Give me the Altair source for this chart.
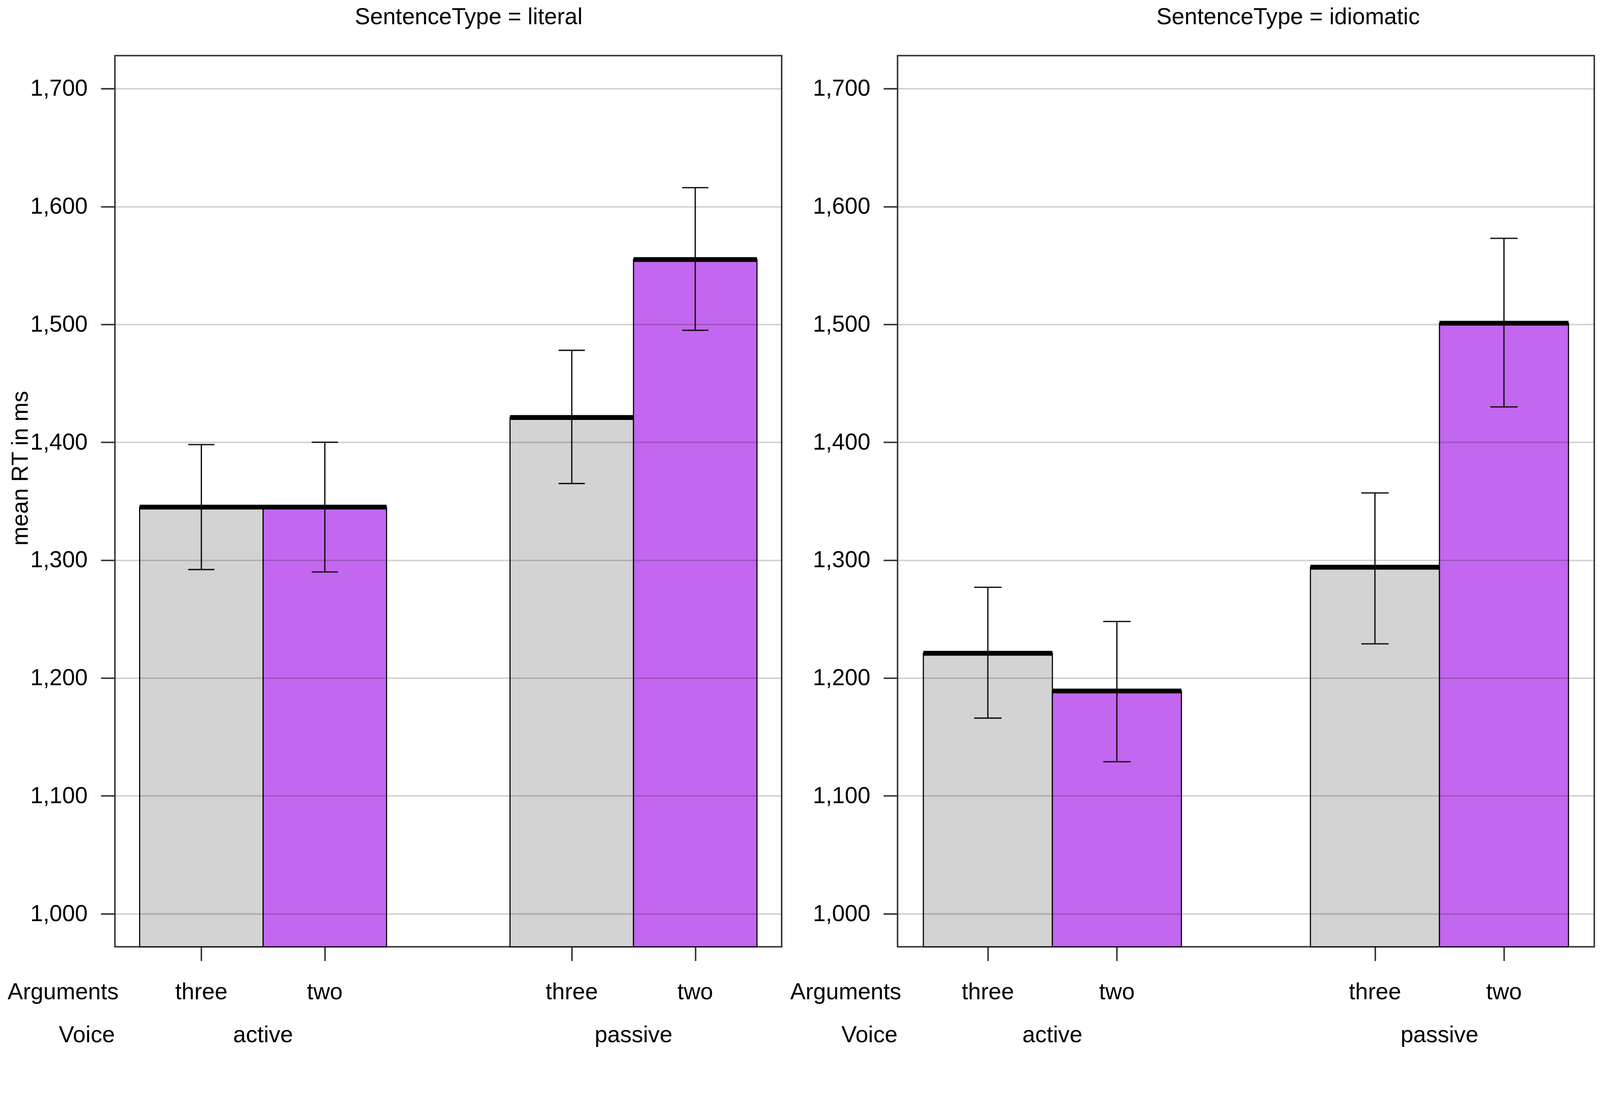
import altair as alt
import pandas as pd

# ---- data ----
sentence_types = ["literal", "idiomatic"]
voices = ["active", "passive"]
arguments = ["three", "two"]

# order within a panel: active-three, active-two, passive-three, passive-two
mean_literal = [1345, 1345, 1421, 1555]
lower_literal = [1292, 1290, 1365, 1495]
upper_literal = [1398, 1400, 1478, 1616]

mean_idiomatic = [1221, 1189, 1294, 1501]
lower_idiomatic = [1166, 1129, 1229, 1430]
upper_idiomatic = [1277, 1248, 1357, 1573]

y_ticks = [1000, 1100, 1200, 1300, 1400, 1500, 1600, 1700]

# ---- layout / style constants ----
FONT = "Liberation Sans"
FS = 62
Y_DOMAIN = [972, 1728]
X_DOMAIN = [0.3, 5.7]
H = 2407
GREY = "#d3d3d3"
PURPLE = "#c367f0"
CAP = 0.106


def make_panel(st, means, lows, highs, width, first, title_dx):
    rows = []
    for vi, v in enumerate(voices):
        for ai, a in enumerate(arguments):
            k = vi * len(arguments) + ai
            pos = vi * (len(arguments) + 1) + ai + 1
            rows.append(dict(Voice=v, Arguments=a, pos=pos,
                             left=pos - 0.5, right=pos + 0.5,
                             cap_l=pos - CAP, cap_r=pos + CAP,
                             mean=means[k], lo=lows[k], hi=highs[k],
                             base=Y_DOMAIN[0]))
    df = pd.DataFrame(rows)
    vdf = pd.DataFrame({
        "Voice": voices,
        "center": [vi * (len(arguments) + 1) + (len(arguments) + 1) / 2
                   for vi in range(len(voices))],
    })

    xs = alt.Scale(domain=X_DOMAIN, nice=False, zero=False)
    ys = alt.Scale(domain=Y_DOMAIN, nice=False, zero=False)

    x_axis = alt.Axis(values=df["pos"].tolist(), labels=False, title=None,
                      grid=False, domain=False, tickSize=38, tickWidth=4,
                      tickColor="#333333")
    common = dict(values=y_ticks, format=",d", labelFontSize=FS,
                  labelColor="black", labelLimit=600, labelPadding=36,
                  tickSize=38, tickWidth=4, tickColor="#333333",
                  domain=False, grid=True, gridColor="black",
                  gridOpacity=0.18, gridWidth=4, zindex=1)
    if first:
        y_axis = alt.Axis(title="mean RT in ms", titleFontSize=FS,
                          titleFontWeight="normal", titleColor="black",
                          titleAngle=270, titleAlign="center",
                          titleBaseline="middle", titleX=-255, titleY=1114,
                          **common)
    else:
        y_axis = alt.Axis(title=None, **common)

    base = alt.Chart(df)

    bars = base.mark_bar(stroke="black", strokeWidth=3).encode(
        x=alt.X("left:Q", scale=xs, axis=x_axis),
        x2="right:Q",
        y=alt.Y("mean:Q", scale=ys, axis=y_axis),
        y2="base:Q",
        color=alt.Color("Arguments:N",
                        scale=alt.Scale(domain=arguments, range=[GREY, PURPLE]),
                        legend=None),
    )
    tops = base.mark_rule(color="black", strokeWidth=13).encode(
        x=alt.X("left:Q", scale=xs, axis=x_axis),
        x2="right:Q",
        y=alt.Y("mean:Q", scale=ys, axis=y_axis),
    )
    err = base.mark_rule(color="#111111", strokeWidth=3.5).encode(
        x=alt.X("pos:Q", scale=xs, axis=x_axis),
        y=alt.Y("lo:Q", scale=ys, axis=y_axis),
        y2="hi:Q",
    )
    cap_lo = base.mark_rule(color="#111111", strokeWidth=3.5).encode(
        x=alt.X("cap_l:Q", scale=xs, axis=x_axis),
        x2="cap_r:Q",
        y=alt.Y("lo:Q", scale=ys, axis=y_axis),
    )
    cap_hi = base.mark_rule(color="#111111", strokeWidth=3.5).encode(
        x=alt.X("cap_l:Q", scale=xs, axis=x_axis),
        x2="cap_r:Q",
        y=alt.Y("hi:Q", scale=ys, axis=y_axis),
    )
    arg_labels = base.mark_text(fontSize=FS, baseline="alphabetic",
                                align="center", color="black").encode(
        x=alt.X("pos:Q", scale=xs, axis=x_axis),
        y=alt.value(H + 142),
        text="Arguments:N",
    )
    voice_labels = alt.Chart(vdf).mark_text(fontSize=FS, baseline="alphabetic",
                                            align="center", color="black").encode(
        x=alt.X("center:Q", scale=xs, axis=x_axis),
        y=alt.value(H + 258),
        text="Voice:N",
    )
    row1 = alt.Chart(pd.DataFrame({"t": ["Arguments"]})).mark_text(
        fontSize=FS, baseline="alphabetic", align="right", color="black"
    ).encode(x=alt.value(10), y=alt.value(H + 142), text="t:N")
    row2 = alt.Chart(pd.DataFrame({"t": ["Voice"]})).mark_text(
        fontSize=FS, baseline="alphabetic", align="right", color="black"
    ).encode(x=alt.value(0), y=alt.value(H + 258), text="t:N")

    return alt.layer(bars, tops, err, cap_lo, cap_hi, arg_labels,
                     voice_labels, row1, row2).properties(
        width=width, height=H,
        title=alt.TitleParams(text=f"SentenceType = {st}", fontSize=FS,
                              fontWeight="normal", color="black",
                              anchor="middle", frame="group", dx=title_dx,
                              offset=23, baseline="alphabetic"),
    )


left = make_panel(sentence_types[0], mean_literal, lower_literal,
                  upper_literal, 1801, True, 55)
right = make_panel(sentence_types[1], mean_idiomatic, lower_idiomatic,
                   upper_idiomatic, 1882, False, 114)

chart = alt.hconcat(left, right, spacing=313, bounds="flush").configure(
    font=FONT, background="white"
).configure_view(
    stroke="#333333", strokeWidth=4
).properties(
    padding={"left": 10, "top": -71, "right": 5, "bottom": 5}
)

chart.save("out.html", embed_options={"renderer": "svg", "actions": False})
